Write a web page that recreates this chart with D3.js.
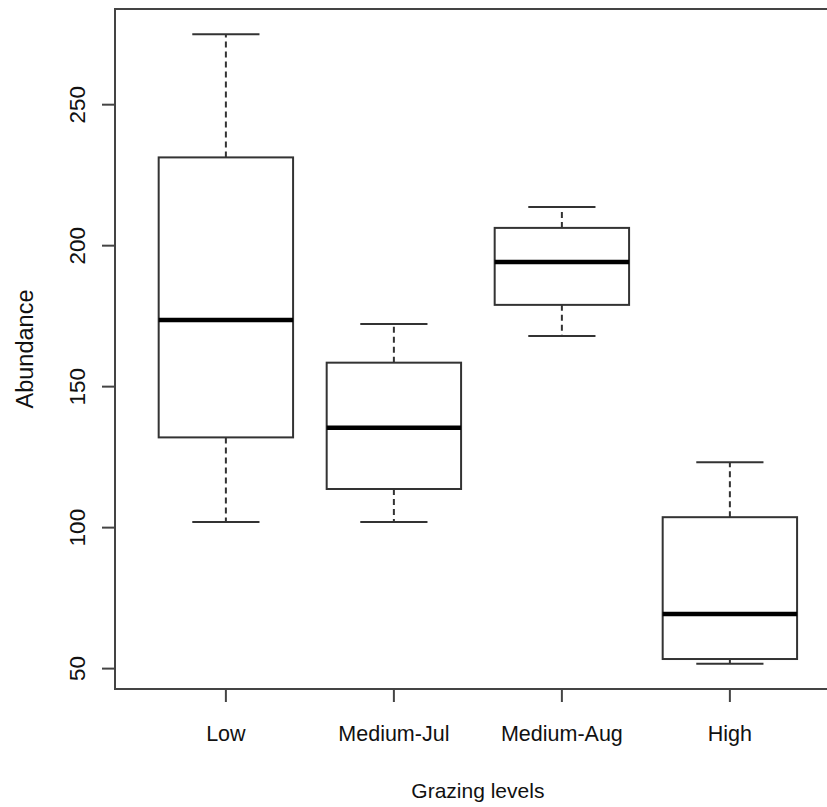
<!DOCTYPE html>
<html>
<head>
<meta charset="utf-8">
<script src="https://cdn.jsdelivr.net/npm/d3@7"></script>
<style>
  html, body { margin: 0; padding: 0; background: #fff; }
  svg { display: block; }
  text { font-family: Arial, "Liberation Sans", sans-serif; fill: #111; }
</style>
</head>
<body>
<div id="chart"></div>
<script>
// Boxplot stats (R boxplot style)
const groups = ['Low', 'Medium-Jul', 'Medium-Aug', 'High'];
const whiskerLow = [102, 102, 168, 51.7];
const q1 = [132, 113.7, 179, 53.4];
const median = [173.6, 135.4, 194.2, 69.4];
const q3 = [231.3, 158.5, 206.3, 103.7];
const whiskerHigh = [275, 172.2, 213.7, 123.2];
const yTicks = [50, 100, 150, 200, 250];

const W = 827, H = 807;
const PLOT = { left: 115, top: 9, bottom: 689 };
const UNIT = 168; // px per group on x

const svg = d3.select('#chart').append('svg')
  .attr('width', W).attr('height', H);

// R extends both axes by 4%
const lo = d3.min(whiskerLow), hi = d3.max(whiskerHigh);
const pad = (hi - lo) * 0.04;
const y = d3.scaleLinear().domain([lo - pad, hi + pad]).range([PLOT.bottom, PLOT.top]);

const xPad = (groups.length - 1 + 1) * 0.04; // range 0.5..n+0.5
const x0 = 0.5 - xPad, x1 = groups.length + 0.5 + xPad;
const x = d3.scaleLinear().domain([x0, x1]).range([PLOT.left, PLOT.left + (x1 - x0) * UNIT]);

const stroke = '#333';
const lw = 2;
const boxHalf = 0.4, capHalf = 0.2;

const stats = groups.map((g, i) => ({
  name: g, pos: i + 1,
  lo: whiskerLow[i], q1: q1[i], med: median[i], q3: q3[i], hi: whiskerHigh[i]
}));

const box = svg.append('g').selectAll('g').data(stats).join('g');

// dashed whiskers
box.append('line')
  .attr('x1', d => x(d.pos)).attr('x2', d => x(d.pos))
  .attr('y1', d => y(d.q3)).attr('y2', d => y(d.hi))
  .attr('stroke', stroke).attr('stroke-width', lw).attr('stroke-dasharray', '6,4');
box.append('line')
  .attr('x1', d => x(d.pos)).attr('x2', d => x(d.pos))
  .attr('y1', d => y(d.q1)).attr('y2', d => y(d.lo))
  .attr('stroke', stroke).attr('stroke-width', lw).attr('stroke-dasharray', '6,4');

// caps
['hi', 'lo'].forEach(k => {
  box.append('line')
    .attr('x1', d => x(d.pos - capHalf)).attr('x2', d => x(d.pos + capHalf))
    .attr('y1', d => y(d[k])).attr('y2', d => y(d[k]))
    .attr('stroke', stroke).attr('stroke-width', lw);
});

// boxes
box.append('rect')
  .attr('x', d => x(d.pos - boxHalf))
  .attr('width', d => x(d.pos + boxHalf) - x(d.pos - boxHalf))
  .attr('y', d => y(d.q3))
  .attr('height', d => y(d.q1) - y(d.q3))
  .attr('fill', '#fff').attr('stroke', stroke).attr('stroke-width', lw);

// medians
box.append('line')
  .attr('x1', d => x(d.pos - boxHalf)).attr('x2', d => x(d.pos + boxHalf))
  .attr('y1', d => y(d.med)).attr('y2', d => y(d.med))
  .attr('stroke', '#000').attr('stroke-width', 4.5);

// frame (right edge falls outside the picture)
svg.append('rect')
  .attr('x', PLOT.left).attr('y', PLOT.top)
  .attr('width', x(x1) - PLOT.left).attr('height', PLOT.bottom - PLOT.top)
  .attr('fill', 'none').attr('stroke', '#444').attr('stroke-width', lw);

// y axis ticks + labels
const yg = svg.append('g');
yg.selectAll('line').data(yTicks).join('line')
  .attr('x1', PLOT.left - 13).attr('x2', PLOT.left)
  .attr('y1', d => y(d)).attr('y2', d => y(d))
  .attr('stroke', '#444').attr('stroke-width', lw);
yg.selectAll('text').data(yTicks).join('text')
  .attr('transform', d => `translate(85, ${y(d)}) rotate(-90)`)
  .attr('text-anchor', 'middle')
  .attr('font-size', 22.5)
  .text(d => d);

// x axis ticks + labels
const xg = svg.append('g');
xg.selectAll('line').data(stats).join('line')
  .attr('x1', d => x(d.pos)).attr('x2', d => x(d.pos))
  .attr('y1', PLOT.bottom).attr('y2', PLOT.bottom + 13)
  .attr('stroke', '#444').attr('stroke-width', lw);
xg.selectAll('text').data(stats).join('text')
  .attr('x', d => x(d.pos)).attr('y', 741)
  .attr('text-anchor', 'middle')
  .attr('font-size', 21.5)
  .text(d => d.name);

// axis titles
svg.append('text')
  .attr('x', x((x0 + x1) / 2) < W ? (PLOT.left + x(x1)) / 2 : W / 2).attr('y', 798)
  .attr('text-anchor', 'middle').attr('font-size', 21)
  .text('Grazing levels');

svg.append('text')
  .attr('transform', `translate(33, ${(PLOT.top + PLOT.bottom) / 2}) rotate(-90)`)
  .attr('text-anchor', 'middle').attr('font-size', 23.5)
  .text('Abundance');
</script>
</body>
</html>
